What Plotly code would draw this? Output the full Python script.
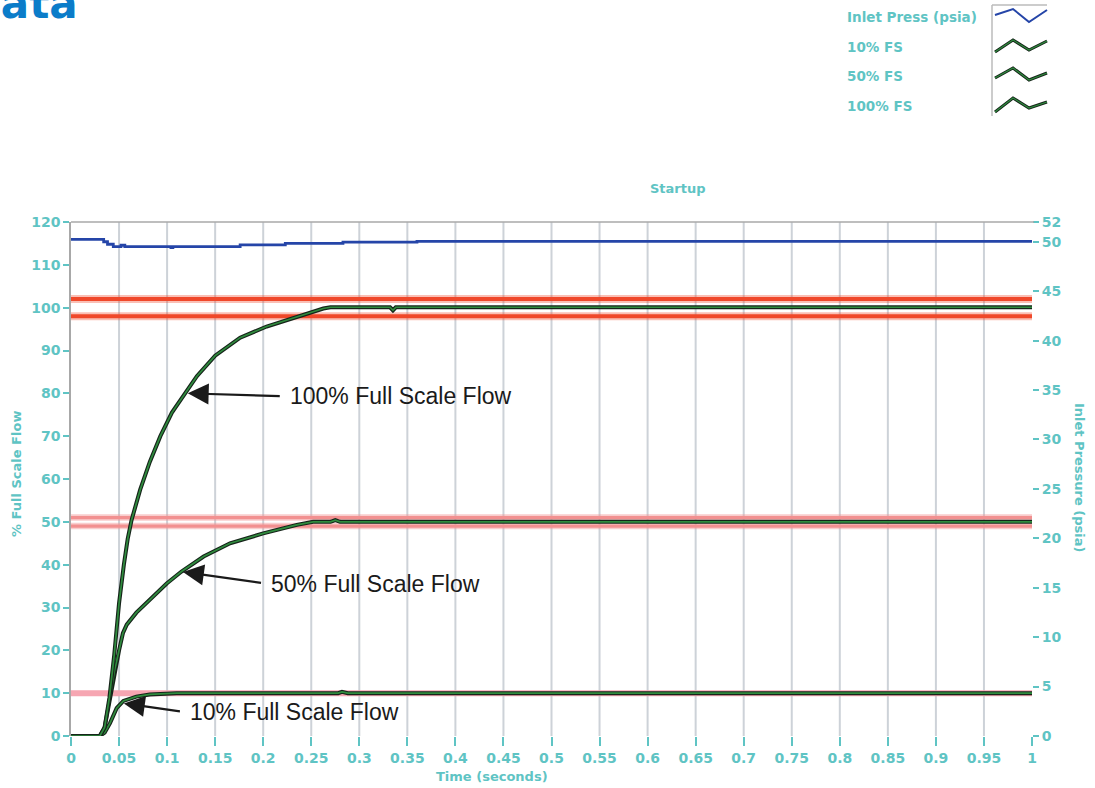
import plotly.graph_objects as go

# ---------------- data ----------------
t_press = [0, 0.030, 0.034, 0.038, 0.044, 0.050, 0.052, 0.056, 0.100, 0.104, 0.106, 0.120,
           0.176, 0.223, 0.283, 0.360, 1.0]
p_press = [50.25, 50.25, 50.0, 49.75, 49.5, 49.5, 49.65, 49.5, 49.5, 49.4, 49.5, 49.5,
           49.68, 49.84, 49.97, 50.05, 50.05]

t_100 = [0, 0.030, 0.035, 0.040, 0.045, 0.050, 0.055, 0.059, 0.063, 0.072, 0.082, 0.093,
         0.105, 0.1186, 0.131, 0.150, 0.176, 0.2036, 0.235, 0.2626, 0.27, 0.332, 0.335,
         0.338, 1.0]
v_100 = [0, 0, 2, 9, 19, 31, 40, 46, 50.4, 57.5, 64, 70, 75.5, 80, 84, 88.8, 93.0, 95.6,
         97.9, 99.8, 100.1, 100.1, 99.4, 100.1, 100.1]

t_50 = [0, 0.030, 0.035, 0.040, 0.045, 0.050, 0.054, 0.058, 0.068, 0.082, 0.0996, 0.115,
        0.138, 0.1655, 0.200, 0.235, 0.252, 0.270, 0.275, 0.280, 1.0]
v_50 = [0, 0, 2, 8, 15, 20, 24, 26.0, 28.8, 31.8, 35.6, 38.4, 41.9, 45.0, 47.3, 49.3, 50.0,
        50.0, 50.4, 50.0, 50.0]

t_10 = [0, 0.030, 0.035, 0.0406, 0.0475, 0.0545, 0.068, 0.082, 0.110, 0.278, 0.282, 0.288, 1.0]
v_10 = [0, 0, 0.8, 3.0, 6.5, 8.2, 9.2, 9.7, 10.0, 10.0, 10.3, 10.0, 10.0]

limits_100 = [98, 102]
limits_50 = [49, 51]
limits_10 = [10]
t_span = [0, 1]

x_ticks = [round(i * 0.05, 2) for i in range(21)]
y_ticks = list(range(0, 121, 10))
y2_ticks = [0, 5, 10, 15, 20, 25, 30, 35, 40, 45, 50, 52]

legend_labels = ["Inlet Press (psia)", "10% FS", "50% FS", "100% FS"]

# ---------------- layout helpers ----------------
W, H = 1095, 788
ML, MR, MT, MB = 71, 63, 222, 52
PW, PH = W - ML - MR, H - MT - MB


def px(x):
    return (x - ML) / PW


def py(y):
    return (H - MB - y) / PH


TEAL = "#5fc4c4"
BLUE = "#2545a8"
DARK = "#16241a"
GREEN = "#2f8c3e"
RED = "#f0482a"
PINK50 = "#f29090"
PINK10 = "#f6a6b2"

fig = go.Figure()

# vertical grid lines (no line at the right edge, as in the original)
for xv in x_ticks[1:-1]:
    fig.add_shape(type="line", xref="x", yref="paper", x0=xv, x1=xv, y0=0, y1=1,
                  line=dict(color="#cdd2d8", width=2), layer="below")

# limit lines
for v in limits_100:
    fig.add_trace(go.Scatter(x=t_span, y=[v, v], mode="lines",
                             line=dict(color="rgba(240,72,42,0.35)", width=8),
                             hoverinfo="skip", showlegend=False))
    fig.add_trace(go.Scatter(x=t_span, y=[v, v], mode="lines",
                             line=dict(color=RED, width=4),
                             hoverinfo="skip", showlegend=False))
for v in limits_50:
    fig.add_trace(go.Scatter(x=t_span, y=[v, v], mode="lines",
                             line=dict(color="rgba(242,144,144,0.45)", width=6.5),
                             hoverinfo="skip", showlegend=False))
    fig.add_trace(go.Scatter(x=t_span, y=[v, v], mode="lines",
                             line=dict(color=PINK50, width=3.2),
                             hoverinfo="skip", showlegend=False))
for v in limits_10:
    fig.add_trace(go.Scatter(x=t_span, y=[v, v], mode="lines",
                             line=dict(color=PINK10, width=6),
                             hoverinfo="skip", showlegend=False))

# flow curves
for tt, vv, name in [(t_10, v_10, "10% FS"), (t_50, v_50, "50% FS"), (t_100, v_100, "100% FS")]:
    fig.add_trace(go.Scatter(x=tt, y=vv, mode="lines", line=dict(color=DARK, width=4),
                             name=name, showlegend=False))
    fig.add_trace(go.Scatter(x=tt, y=vv, mode="lines", line=dict(color=GREEN, width=1.7),
                             hoverinfo="skip", showlegend=False))

# inlet pressure on right axis
fig.add_trace(go.Scatter(x=t_press, y=p_press, mode="lines", yaxis="y2",
                         line=dict(color=BLUE, width=2.8, shape="hv"),
                         name="Inlet Press (psia)", showlegend=False))

tickfont = dict(family="DejaVu Sans", size=14, color=TEAL, weight="bold")

fig.update_layout(
    width=W, height=H,
    margin=dict(l=ML, r=MR, t=MT, b=MB),
    paper_bgcolor="white", plot_bgcolor="white",
    showlegend=False,
    xaxis=dict(range=[0, 1], tickvals=x_ticks, ticktext=[f"{v:g}" for v in x_ticks],
               showgrid=False, zeroline=False,
               showline=False, ticks="outside", ticklen=9, tickcolor=TEAL, tickwidth=1.5,
               tickfont=tickfont),
    yaxis=dict(range=[0, 120], tickvals=y_ticks, showgrid=False, zeroline=False,
               showline=True, linecolor="#a8a8a8", linewidth=1.5,
               ticks="outside", ticklen=6, tickcolor=TEAL, tickwidth=1.5,
               tickfont=tickfont),
    yaxis2=dict(range=[0, 52], tickvals=y2_ticks, overlaying="y", side="right",
                showgrid=False, zeroline=False, showline=False,
                ticks="outside", ticklen=6, tickcolor=TEAL, tickwidth=1.5,
                tickfont=tickfont),
)

# top border
fig.add_shape(type="line", xref="paper", yref="paper", x0=0, x1=px(1034), y0=1, y1=1,
              line=dict(color="#a8a8a8", width=1.5))

titlefont = dict(family="DejaVu Sans", size=13, color=TEAL, weight="bold")


def label(text, x, y, angle=0, font=titlefont, xanchor="center"):
    fig.add_annotation(text=text, xref="paper", yref="paper", x=px(x), y=py(y),
                       xanchor=xanchor, yanchor="middle", showarrow=False,
                       font=font, textangle=angle)


label("Startup", 678, 188)
label("Time (seconds)", 492, 776)
label("% Full Scale Flow", 16, 474, angle=-90)
label("Inlet Pressure (psia)", 1080, 478, angle=90)

# header fragment (cut off at the top-left, as in the original)
fig.add_annotation(text="<b>Data</b>", xref="paper", yref="paper", x=px(-36), y=py(4),
                   xanchor="left", yanchor="middle", showarrow=False,
                   font=dict(family="DejaVu Sans", size=42, color="#0b7cc9"))

# callouts
annfont = dict(family="Liberation Sans", size=23, color="#1a1a1a")
for text, hx, hy, ax, ay in [("100% Full Scale Flow", 0.1215, 80.0, 100, 3),
                             ("50% Full Scale Flow", 0.1165, 38.3, 86, 12),
                             ("10% Full Scale Flow", 0.055, 7.6, 64, 9)]:
    fig.add_annotation(text=text, x=hx, y=hy, xref="x", yref="y", ax=ax, ay=ay,
                       axref="pixel", ayref="pixel", xanchor="left", yanchor="middle",
                       showarrow=True, startstandoff=8,
                       arrowhead=2, arrowsize=1.9, arrowwidth=2.2, arrowcolor="#1a1a1a",
                       font=annfont)

# manual legend
legfont = dict(family="DejaVu Sans", size=13.5, color=TEAL, weight="bold")
row_y = [17, 47, 76, 106]
zig_x = [995, 1013, 1029, 1047]
zig_dy = [[-2, -8, 5, -7], [5, -7, 3, -6], [2, -8, 4, -3], [6, -8, 2, -4]]
for i, lab in enumerate(legend_labels):
    label(lab, 845, row_y[i], font=legfont, xanchor="left")
    path = "M " + " L ".join(f"{px(x):.5f},{py(row_y[i] + d):.5f}"
                             for x, d in zip(zig_x, zig_dy[i]))
    if i == 0:
        fig.add_shape(type="path", xref="paper", yref="paper", path=path,
                      line=dict(color=BLUE, width=2))
    else:
        fig.add_shape(type="path", xref="paper", yref="paper", path=path,
                      line=dict(color=DARK, width=3))
        fig.add_shape(type="path", xref="paper", yref="paper", path=path,
                      line=dict(color=GREEN, width=1.2))
fig.add_shape(type="line", xref="paper", yref="paper", x0=px(992), x1=px(992),
              y0=py(5), y1=py(116), line=dict(color="#bbbbbb", width=1.5))
fig.add_shape(type="line", xref="paper", yref="paper", x0=px(992), x1=px(1047),
              y0=py(5), y1=py(5), line=dict(color="#bbbbbb", width=1.5))

fig.write_html("out.html", config={"displayModeBar": False},
               post_script="document.body.style.margin='0px';")
